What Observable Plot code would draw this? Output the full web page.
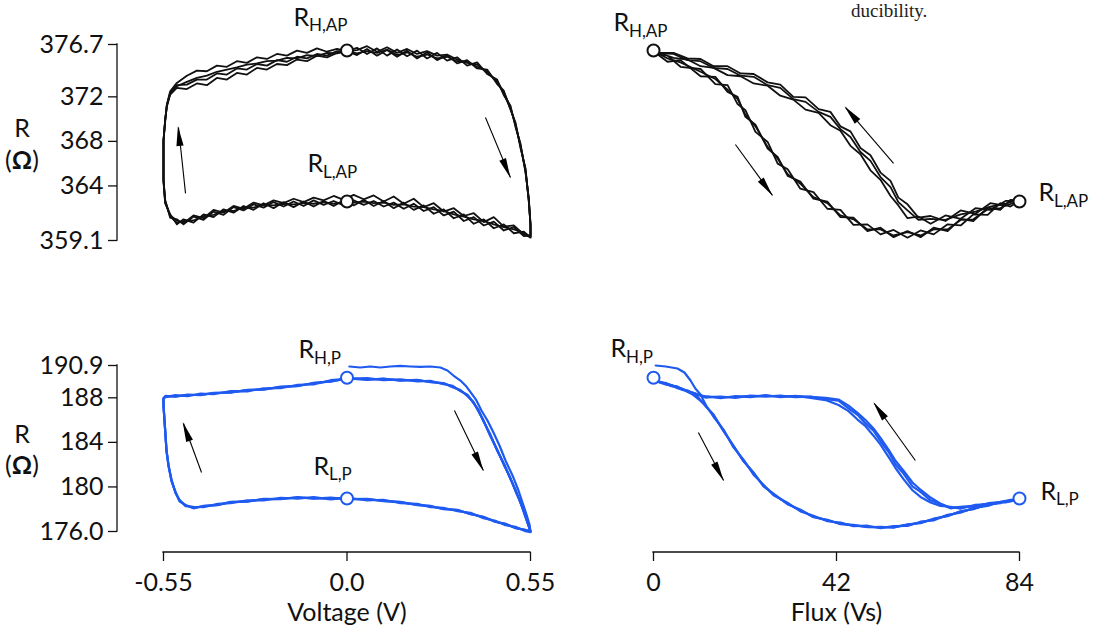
<!DOCTYPE html>
<html><head><meta charset="utf-8">
<script src="https://cdn.jsdelivr.net/npm/d3@7"></script>
<script src="https://cdn.jsdelivr.net/npm/@observablehq/plot@0.6"></script>
<style>
html,body{margin:0;padding:0;background:#fff;}
#wrap{position:relative;width:1096px;height:638px;overflow:hidden;background:#fff;font-family:Lato,sans-serif;color:#111;}
.ytitle{position:absolute;left:0;width:44px;text-align:center;font-size:25px;line-height:25px;}
#caption{position:absolute;left:851px;top:0px;font-family:"Liberation Serif",serif;font-size:19px;line-height:22px;color:#222;}
</style></head><body>
<div id="wrap">
  <div id="caption">ducibility.</div>
  <div class="ytitle" style="top:115px">R</div>
  <div class="ytitle" style="top:147px">(<b>Ω</b>)</div>
  <div class="ytitle" style="top:421px">R</div>
  <div class="ytitle" style="top:452px">(<b>Ω</b>)</div>
</div>
<script>
// ---------------- DATA ----------------
const apTicks = [376.7, 372, 368, 364, 359.1];
const apTickLabels = ["376.7", "372", "368", "364", "359.1"];
const pTicks = [190.9, 188, 184, 180, 176.0];
const pTickLabels = ["190.9", "188", "184", "180", "176.0"];
const voltTicks = [-0.55, 0, 0.55];
const voltTickLabels = ["-0.55", "0.0", "0.55"];
const fluxTicks = [0, 42, 84];
const fluxTickLabels = ["0", "42", "84"];
const voltTitle = "Voltage (V)";
const fluxTitle = "Flux (Vs)";

// Top-left: R (AP state) vs voltage, four sweep cycles
const tlV = [0,0.03,0.06,0.09,0.12,0.15,0.18,0.21,0.24,0.27,0.30,0.33,0.36,0.39,0.42,0.45,0.47,0.49,0.505,0.52,0.535,0.545,0.55,0.55,
 0.53,0.50,0.47,0.44,0.41,0.38,0.35,0.32,0.29,0.26,0.23,0.20,0.17,0.14,0.11,0.08,0.05,0.02,-0.01,-0.04,-0.07,-0.10,-0.13,-0.16,-0.19,-0.22,-0.25,-0.28,-0.31,-0.34,-0.37,-0.40,-0.43,-0.46,-0.49,-0.51,-0.53,-0.545,
 -0.55,-0.55,-0.55,-0.545,-0.54,-0.53,-0.51,
 -0.48,-0.45,-0.42,-0.39,-0.36,-0.33,-0.30,-0.27,-0.24,-0.21,-0.18,-0.15,-0.12,-0.09,-0.06,-0.03,0];
const tlR1 = [376.10,376.40,375.85,376.35,375.70,376.25,375.65,376.15,375.45,375.95,375.25,375.55,374.80,375.10,374.05,373.55,372.15,371.20,369.30,367.80,365.20,362.90,360.30,359.35,
 359.90,359.75,360.55,360.20,361.00,360.60,361.45,361.10,361.90,361.50,362.25,361.85,362.50,362.00,362.65,362.20,362.75,362.25,362.70,362.20,362.65,362.15,362.60,362.10,362.55,362.00,362.45,361.85,362.20,361.60,361.90,361.20,361.45,360.70,361.00,360.55,361.45,362.50,
 364.40,366.25,368.15,369.85,371.25,372.35,373.05,
 373.10,373.55,373.55,374.10,374.00,374.55,374.45,374.95,374.80,375.30,375.15,375.60,375.45,375.85,375.70,376.10,376.10];
const tlR2 = [376.10,375.75,376.30,375.70,376.20,375.60,376.15,375.45,376.00,375.30,375.75,375.00,375.30,374.55,374.45,373.15,372.55,370.85,369.70,367.40,365.60,362.55,360.70,359.55,
 359.50,360.30,360.00,360.80,360.45,361.20,360.85,361.70,361.35,362.10,361.75,362.40,361.95,362.50,362.15,362.65,362.30,362.70,362.25,362.65,362.30,362.70,362.20,362.60,362.15,362.55,362.05,362.35,361.80,362.10,361.40,361.70,360.95,361.25,360.55,361.00,361.15,362.75,
 364.60,366.40,368.00,369.95,371.10,372.20,372.80,
 372.70,373.20,373.05,373.70,373.55,374.15,374.00,374.60,374.45,374.95,374.85,375.35,375.20,375.70,375.55,375.95,376.10];
const tlR3 = [376.10,376.20,376.55,376.05,376.45,375.95,376.30,375.85,376.10,375.70,375.80,375.35,375.05,374.90,374.20,373.40,372.40,371.05,369.45,367.65,365.35,362.75,360.45,359.40,
 359.65,360.45,360.35,361.20,360.75,361.55,361.30,362.00,361.70,362.45,362.10,362.85,362.40,363.05,362.60,363.15,362.80,363.20,362.75,363.10,362.70,362.95,362.55,362.85,362.45,362.70,362.25,362.50,361.95,362.20,361.60,361.85,361.10,361.35,360.65,360.90,361.35,362.45,
 364.55,366.35,368.05,369.80,371.30,372.50,373.25,
 373.90,374.35,374.30,374.80,374.70,375.20,375.05,375.55,375.40,375.85,375.70,376.15,375.95,376.35,376.05,376.30,376.10];
const tlR4 = [376.10,375.90,376.10,375.95,376.25,375.75,376.00,375.60,375.80,375.45,375.60,375.20,375.15,374.70,374.30,373.30,372.30,370.95,369.55,367.55,365.45,362.65,360.55,359.45,
 359.80,360.10,360.30,360.55,360.85,361.00,361.25,361.45,361.75,361.90,362.10,362.15,362.35,362.30,362.50,362.45,362.60,362.50,362.55,362.40,362.55,362.40,362.45,362.35,362.40,362.25,362.30,362.05,362.10,361.75,361.75,361.40,361.30,360.90,360.85,360.70,361.25,362.65,
 364.45,366.30,368.10,369.90,371.20,372.30,372.95,
 373.35,373.70,373.90,374.25,374.45,374.65,374.90,375.00,375.20,375.25,375.50,375.45,375.75,375.65,375.95,375.90,376.10];

// Top-right: R (AP state) vs flux
const trF = [0,3.2,6.2,10.8,14.2,17.0,19.3,21.1,23.4,26.2,28.5,30.8,33.7,36.7,39.9,42.9,45.9,49.1,52.1,55.1,58.3,61.3,64.3,67.5,70.5,73.4,76.7,79.6,81.9,84,
 80.8,77.3,73.9,70.5,67.0,63.6,60.8,58.3,56.2,54.4,52.1,49.8,47.5,45.2,42.9,40.6,37.9,34.9,32.1,29.1,26.2,23.0,20.0,17.0,13.8,10.8,7.8,4.6,1.6,0];
const trR1 = [376.10,375.15,375.30,373.85,373.80,372.45,372.00,370.20,369.50,367.35,366.60,364.90,364.40,362.85,362.60,361.20,361.15,359.95,360.25,359.40,359.95,359.40,360.25,359.95,361.05,360.85,362.05,361.85,362.75,362.70,
 362.20,362.45,361.50,361.80,360.85,361.30,361.15,362.35,362.95,364.45,365.20,366.75,367.40,368.90,369.35,370.65,370.90,371.95,372.00,373.10,373.30,374.05,374.10,374.75,374.75,375.40,375.45,375.95,375.95,376.10];
const trR2 = [375.85,375.70,374.70,374.50,373.15,373.05,371.35,370.80,368.85,367.95,366.00,365.50,363.75,363.45,361.95,361.85,360.50,360.55,359.65,360.05,359.35,360.00,359.65,360.55,360.45,361.45,361.40,362.45,362.15,362.65,
 362.65,361.85,362.00,361.05,361.35,360.60,361.25,361.10,362.25,363.10,364.55,365.40,366.85,367.60,368.95,369.45,370.55,370.85,371.75,372.10,373.00,373.20,373.85,373.95,374.60,374.75,375.35,375.50,375.90,376.00];
const trR3 = [376.15,375.45,375.10,374.25,373.60,372.65,371.80,370.40,369.35,367.50,366.45,365.05,364.20,363.00,362.45,361.35,361.00,360.10,360.10,359.55,359.85,359.55,360.10,360.10,360.95,361.00,361.90,362.00,362.60,362.80,
 362.40,362.15,361.70,361.45,360.95,361.05,360.95,361.80,362.55,363.90,364.80,366.25,367.05,368.40,369.10,370.20,370.65,371.55,371.80,372.80,373.05,373.80,373.90,374.50,374.60,375.20,375.30,375.85,375.90,376.15];

// Bottom-left: R (P state) vs voltage
const blV = [0,0.061,0.109,0.160,0.211,0.250,0.289,0.316,0.340,0.361,0.379,0.394,0.409,0.430,0.451,0.472,0.490,0.505,0.520,0.532,0.541,0.547,0.550,
 0.535,0.505,0.475,0.445,0.409,0.370,0.331,0.289,0.250,0.211,0.160,0.109,0.061,0,-0.049,-0.100,-0.148,-0.199,-0.250,-0.298,-0.349,-0.388,-0.430,-0.460,-0.484,-0.502,-0.514,-0.526,-0.535,-0.541,-0.544,-0.547,-0.550,-0.550,
 -0.544,-0.514,-0.478,-0.439,-0.400,-0.349,-0.298,-0.250,-0.199,-0.148,-0.100,-0.049,0];
const blR1 = [189.75,189.60,189.72,189.55,189.62,189.40,189.33,188.95,188.70,188.15,187.62,186.80,186.00,184.55,183.30,181.85,180.80,179.62,178.65,177.55,176.85,176.22,176.00,
 176.15,176.30,176.70,176.85,177.32,177.55,177.95,178.00,178.30,178.36,178.66,178.72,178.93,178.90,179.05,178.95,179.08,178.90,178.93,178.68,178.66,178.36,178.30,178.08,178.38,178.72,179.55,180.52,181.98,183.20,184.68,185.90,187.36,187.88,
 188.18,188.10,188.28,188.24,188.45,188.46,188.72,188.73,189.00,189.04,189.35,189.45,189.75];
const blR2 = [189.70,189.76,189.58,189.66,189.48,189.52,189.22,189.08,188.60,188.28,187.52,186.93,185.90,184.70,183.20,182.00,180.70,179.75,178.55,177.68,176.75,176.32,175.95,
 176.03,176.42,176.57,176.96,177.20,177.68,177.82,178.13,178.18,178.48,178.54,178.85,178.80,179.03,178.88,179.08,178.95,179.03,178.80,178.80,178.54,178.48,178.18,178.22,178.27,178.85,179.44,180.66,181.85,183.35,184.55,186.04,187.25,188.00,
 188.06,188.24,188.14,188.37,188.32,188.60,188.58,188.86,188.86,189.17,189.20,189.58,189.70];
const blR3 = [189.78,189.66,189.70,189.57,189.60,189.42,189.30,189.04,188.63,188.24,187.60,186.82,185.93,184.58,183.25,181.95,180.73,179.70,178.62,177.58,176.84,176.25,176.02,
 176.12,176.33,176.66,176.88,177.30,177.58,177.92,178.03,178.27,178.39,178.63,178.75,178.90,178.93,179.00,178.98,179.05,178.93,178.90,178.71,178.63,178.39,178.27,178.12,178.36,178.75,179.52,180.55,181.95,183.24,184.65,185.93,187.33,187.91,
 188.15,188.13,188.25,188.27,188.42,188.49,188.69,188.76,188.96,189.07,189.31,189.48,189.73];
// first (initial) sweep of the P state
const blInitV = [0.007,0.040,0.070,0.100,0.130,0.160,0.190,0.220,0.250,0.280,0.301,0.319,0.340,0.358,0.373,0.388,0.403,0.421,0.439,0.457,0.475,0.496,0.514,0.526,0.538,0.547,0.550];
const blInitR = [190.81,190.72,190.81,190.72,190.81,190.86,190.81,190.77,190.81,190.72,190.45,190.00,189.55,189.01,188.39,187.76,186.86,185.96,184.88,183.72,182.37,181.03,179.68,178.60,177.52,176.63,176.00];

// Bottom-right: R (P state) vs flux
const brF = [0,2.75,5.51,8.03,10.10,11.93,13.77,16.07,18.36,20.66,22.95,25.25,27.54,30.75,33.74,36.72,39.94,42.92,45.90,49.12,52.10,55.08,58.30,61.28,64.27,67.48,70.46,73.45,76.66,79.64,81.94,84,
 80.79,77.35,73.90,70.46,68.17,65.87,63.58,61.28,59.44,57.38,55.54,53.94,52.10,50.49,48.66,46.82,44.76,42.46,39.48,36.03,32.59,29.15,25.71,22.26,18.82,15.38,11.93,9.18,6.66,4.13,1.84,0];
const brR1 = [189.60,189.20,189.00,188.50,188.10,187.25,186.50,185.00,183.70,182.30,181.30,180.05,179.40,178.45,177.95,177.28,177.05,176.65,176.60,176.38,176.42,176.35,176.65,176.75,177.15,177.38,177.82,178.00,178.45,178.55,178.85,178.90,
 178.62,178.58,178.26,178.22,178.08,178.48,178.80,179.55,180.05,181.20,182.02,183.15,184.10,185.05,185.70,186.48,187.05,187.75,187.88,188.10,188.05,188.20,188.10,188.20,188.00,188.12,188.02,188.45,188.70,189.15,189.32,189.60];
const brR2 = [189.50,189.35,188.86,188.62,187.95,187.38,186.30,185.15,183.55,182.45,181.10,180.20,179.25,178.58,177.80,177.42,176.92,176.80,176.48,176.52,176.30,176.48,176.50,176.88,177.00,177.50,177.68,178.12,178.30,178.66,178.72,178.85,
 178.75,178.45,178.40,178.05,178.22,178.30,178.60,179.10,179.70,180.70,181.70,182.70,183.80,184.60,185.45,186.05,186.80,187.35,187.80,188.00,188.18,188.05,188.24,188.05,188.15,187.96,188.14,188.32,188.80,189.05,189.42,189.50];
const brR3 = [189.58,189.25,188.98,188.55,188.06,187.30,186.45,185.05,183.65,182.35,181.25,180.10,179.35,178.48,177.90,177.32,177.00,176.70,176.55,176.42,176.38,176.40,176.60,176.80,177.10,177.42,177.78,178.05,178.40,178.58,178.80,178.88,
 178.70,178.52,178.30,178.18,178.12,178.50,179.05,179.75,180.40,181.45,182.35,183.35,184.40,185.25,186.00,186.65,187.30,187.85,188.00,188.08,188.15,188.14,188.18,188.16,188.08,188.06,188.10,188.42,188.78,189.12,189.40,189.58];
const brInitF = [0.5,2.8,5.5,7.1,8.5,9.6,10.8,12.0];
const brInitR = [190.90,190.81,190.63,190.27,189.55,188.84,188.30,187.35];

// Marked states (circles) and their names
const apStateV = [0, 0];
const apStateF = [0, 84];
const apStateR = [376.16, 362.6];
const apStateSub = ["H,AP", "L,AP"];
const pStateV = [0, 0];
const pStateF = [0, 84];
const pStateR = [189.8, 178.96];
const pStateSub = ["H,P", "L,P"];

// Sweep-direction arrows (start -> end, data units)
const tlArrowX1 = [-0.484, 0.415], tlArrowR1 = [363.33, 370.15], tlArrowX2 = [-0.505, 0.490], tlArrowR2 = [369.25, 364.76];
const trArrowX1 = [18.8, 55.1], trArrowR1 = [367.72, 366.02], trArrowX2 = [27.3, 44.1], trArrowR2 = [363.15, 371.04];
const blArrowX1 = [-0.436, 0.322], blArrowR1 = [181.3, 186.86], blArrowX2 = [-0.490, 0.409], blArrowR2 = [185.69, 181.47];
const brArrowX1 = [10.3, 60.1], brArrowR1 = [184.89, 182.37], brArrowX2 = [16.1, 50.7], brArrowR2 = [180.58, 187.49];

// ---------------- DRAWING ----------------
const BLACK = "#111111";
const BLUE = "#1f5af0";

function scaleFn(s) {
  if (s && typeof s.apply === "function") return v => s.apply(v);
  const [d0, d1] = s.domain, [r0, r1] = s.range;
  return v => r0 + (v - d0) / (d1 - d0) * (r1 - r0);
}

function buildPanel(cfg) {
  const data = cfg.cycles.flatMap((rs, c) => cfg.xs.map((x, i) => ({x, r: rs[i], c})));
  const marks = [];
  if (cfg.yTicks) {
    marks.push(Plot.axisY({ticks: cfg.yTicks, tickFormat: d => cfg.yTickLabels[cfg.yTicks.indexOf(d)],
      tickSize: 9, tickPadding: 5, strokeWidth: 1.3, label: null}));
  }
  if (cfg.xTicks) {
    marks.push(Plot.axisX({ticks: cfg.xTicks, tickFormat: d => cfg.xTickLabels[cfg.xTicks.indexOf(d)],
      tickSize: 9, tickPadding: 12, strokeWidth: 1.3, label: null}));
    marks.push(Plot.text([cfg.xTitle], {x: () => cfg.xTitleAt, text: d => d, frameAnchor: "bottom", dy: 68}));
  }
  marks.push(Plot.line(data, {x: "x", y: "r", z: "c", stroke: cfg.color, strokeWidth: cfg.lw, strokeLinejoin: "round"}));
  if (cfg.initX) {
    marks.push(Plot.line(cfg.initX.map((x, i) => ({x, r: cfg.initR[i]})), {x: "x", y: "r", stroke: cfg.color, strokeWidth: cfg.lw}));
  }
  const arrows = cfg.arrowX1.map((x1, i) => ({x1, y1: cfg.arrowR1[i], x2: cfg.arrowX2[i], y2: cfg.arrowR2[i]}));
  marks.push(Plot.link(arrows, {x1: "x1", y1: "y1", x2: "x2", y2: "y2", stroke: "#000", strokeWidth: 1.1}));
  const pts = cfg.stateX.map((x, i) => ({x, r: cfg.stateR[i], sub: cfg.stateSub[i]}));
  marks.push(Plot.dot(pts, {x: "x", y: "r", r: 6, fill: "white", stroke: cfg.color, strokeWidth: 2}));
  pts.forEach((p, i) => {
    const [dx, dy] = cfg.labelOffsets[i];
    marks.push(Plot.text([p], {x: "x", y: "r", text: () => "R", dx, dy, textAnchor: "start", fill: "#111"}));
    marks.push(Plot.text([p], {x: "x", y: "r", text: "sub", dx: dx + 15.5, dy: dy + 8.5, textAnchor: "start", fontSize: 17, fill: "#111"}));
  });

  const xOpt = {domain: cfg.xDomain, insetLeft: cfg.insetL || 0};
  if (!cfg.xTicks) xOpt.axis = null;
  const yOpt = {domain: cfg.yDomain, insetBottom: cfg.insetB || 0};
  if (!cfg.yTicks) yOpt.axis = null;

  const chart = Plot.plot({
    width: cfg.width, height: cfg.height,
    marginLeft: cfg.ml, marginRight: cfg.mr, marginTop: cfg.mt, marginBottom: cfg.mb,
    x: xOpt, y: yOpt,
    style: {fontFamily: "Lato, sans-serif", fontSize: "25px", color: "#111", background: "transparent", overflow: "visible"},
    marks
  });
  const sel = d3.select(chart);
  const sx = chart.scale("x"), sy = chart.scale("y");
  if (cfg.yTicks) {
    const [a, b] = sy.range;
    sel.append("line").attr("x1", cfg.ml).attr("x2", cfg.ml).attr("y1", a).attr("y2", b)
      .attr("stroke", "#111").attr("stroke-width", 1.3).attr("stroke-linecap", "square");
  }
  if (cfg.xTicks) {
    const [a, b] = sx.range;
    const y0 = cfg.height - cfg.mb;
    sel.append("line").attr("x1", a).attr("x2", b).attr("y1", y0).attr("y2", y0)
      .attr("stroke", "#111").attr("stroke-width", 1.3).attr("stroke-linecap", "square");
  }
  // filled arrow heads at the end of each direction arrow, placed through the plot's scales
  const fx = scaleFn(sx), fy = scaleFn(sy);
  const heads = sel.append("g").attr("fill", "#000");
  arrows.forEach(a => {
    const x1 = fx(a.x1), y1 = fy(a.y1), x2 = fx(a.x2), y2 = fy(a.y2);
    const ang = Math.atan2(y2 - y1, x2 - x1), c = Math.cos(ang), s = Math.sin(ang);
    const L = 19, w = 3.6;
    const bx = x2 - L * c, by = y2 - L * s;
    heads.append("path").attr("d", `M${x2 + c},${y2 + s}L${bx - w * s},${by + w * c}L${bx + w * s},${by - w * c}Z`);
  });
  chart.style.position = "absolute";
  chart.style.left = cfg.left + "px";
  chart.style.top = cfg.top + "px";
  document.getElementById("wrap").appendChild(chart);
}

// Top-left
buildPanel({
  left: 0, top: 0, width: 560, height: 260, ml: 117, mr: 30, mt: 44, mb: 20, insetL: 46,
  xDomain: [-0.55, 0.55], yDomain: [359.1, 376.7],
  yTicks: apTicks, yTickLabels: apTickLabels,
  xs: tlV, cycles: [tlR1, tlR2, tlR3, tlR4], color: BLACK, lw: 1.8,
  arrowX1: tlArrowX1, arrowR1: tlArrowR1, arrowX2: tlArrowX2, arrowR2: tlArrowR2,
  stateX: apStateV, stateR: apStateR, stateSub: apStateSub,
  labelOffsets: [[-53.5, -33], [-39.5, -37.5]]
});
// Top-right
buildPanel({
  left: 560, top: 0, width: 536, height: 260, ml: 93, mr: 77, mt: 44, mb: 20,
  xDomain: [0, 84], yDomain: [359.1, 376.7],
  xs: trF, cycles: [trR1, trR2, trR3], color: BLACK, lw: 1.8,
  arrowX1: trArrowX1, arrowR1: trArrowR1, arrowX2: trArrowX2, arrowR2: trArrowR2,
  stateX: apStateF, stateR: apStateR, stateSub: apStateSub,
  labelOffsets: [[-40, -27.5], [19, -8.5]]
});
// Bottom-left
buildPanel({
  left: 0, top: 300, width: 560, height: 338, ml: 117, mr: 30, mt: 65, mb: 86, insetL: 46, insetB: 21,
  xDomain: [-0.55, 0.55], yDomain: [176.0, 190.9],
  yTicks: pTicks, yTickLabels: pTickLabels,
  xTicks: voltTicks, xTickLabels: voltTickLabels, xTitle: voltTitle, xTitleAt: 0,
  xs: blV, cycles: [blR1, blR2, blR3], color: BLUE, lw: 2.2,
  initX: blInitV, initR: blInitR,
  arrowX1: blArrowX1, arrowR1: blArrowR1, arrowX2: blArrowX2, arrowR2: blArrowR2,
  stateX: pStateV, stateR: pStateR, stateSub: pStateSub,
  labelOffsets: [[-48.5, -27.5], [-33.5, -32]]
});
// Bottom-right
buildPanel({
  left: 560, top: 300, width: 536, height: 338, ml: 93, mr: 77, mt: 65, mb: 86, insetB: 21,
  xDomain: [0, 84], yDomain: [176.0, 190.9],
  xTicks: fluxTicks, xTickLabels: fluxTickLabels, xTitle: fluxTitle, xTitleAt: 42,
  xs: brF, cycles: [brR1, brR2, brR3], color: BLUE, lw: 2.2,
  initX: brInitF, initR: brInitR,
  arrowX1: brArrowX1, arrowR1: brArrowR1, arrowX2: brArrowX2, arrowR2: brArrowR2,
  stateX: pStateF, stateR: pStateR, stateSub: pStateSub,
  labelOffsets: [[-43, -28.5], [21, -7]]
});
</script>
</body></html>
